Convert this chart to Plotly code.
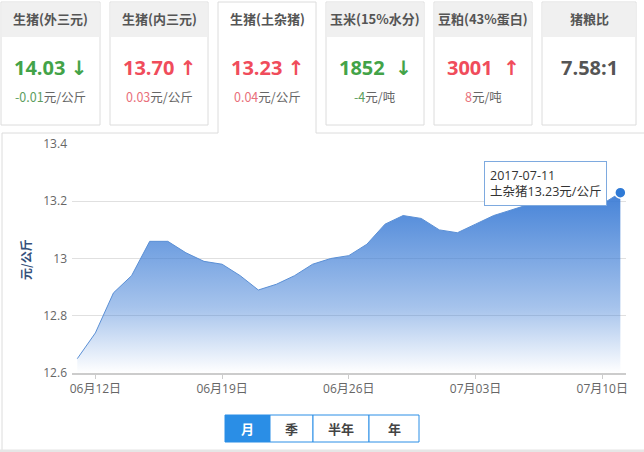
import plotly.graph_objects as go

# ---------------- data ----------------
dates = [
    "2017-06-11", "2017-06-12", "2017-06-13", "2017-06-14", "2017-06-15", "2017-06-16",
    "2017-06-17", "2017-06-18", "2017-06-19", "2017-06-20", "2017-06-21", "2017-06-22",
    "2017-06-23", "2017-06-24", "2017-06-25", "2017-06-26", "2017-06-27", "2017-06-28",
    "2017-06-29", "2017-06-30", "2017-07-01", "2017-07-02", "2017-07-03", "2017-07-04",
    "2017-07-05", "2017-07-06", "2017-07-07", "2017-07-08", "2017-07-09", "2017-07-10",
    "2017-07-11",
]
prices = [
    12.65, 12.74, 12.88, 12.94, 13.06, 13.06,
    13.02, 12.99, 12.98, 12.94, 12.89, 12.91,
    12.94, 12.98, 13.00, 13.01, 13.05, 13.12,
    13.15, 13.14, 13.10, 13.09, 13.12, 13.15,
    13.17, 13.19, 13.19, 13.20, 13.20, 13.19,
    13.23,
]
tick_dates = ["2017-06-12", "2017-06-19", "2017-06-26", "2017-07-03", "2017-07-10"]
tick_labels = ["06月12日", "06月19日", "06月26日", "07月03日", "07月10日"]
y_ticks = [12.6, 12.8, 13.0, 13.2, 13.4]
y_title = "元/公斤"
series_name = "土杂猪"
tooltip_date = "2017-07-11"

card_names = ["生猪(外三元)", "生猪(内三元)", "生猪(土杂猪)", "玉米(15%水分)", "豆粕(43%蛋白)", "猪粮比"]
card_values = ["14.03", "13.70", "13.23", "1852", "3001", "7.58:1"]
card_changes = ["-0.01", "0.03", "0.04", "-4", "8", ""]
card_units = ["元/公斤", "元/公斤", "元/公斤", "元/吨", "元/吨", ""]
card_dirs = ["down", "up", "up", "down", "up", ""]
active_card = 2

range_buttons = ["月", "季", "半年", "年"]
active_button = 0

# ---------------- layout helpers ----------------
W, H = 644, 452
L, R, T, B = 72, 18, 144, 79
PW, PH = W - L - R, H - T - B


def px(x):
    return (x - L) / PW


def py(y):
    return (H - B - y) / PH


CJK = "Noto Sans CJK SC"
NUM = "Open Sans, Noto Sans CJK SC"
GREEN, GREEN_L = "#43a348", "#5c9e5e"
RED, RED_L = "#f04c5b", "#e9707b"
BLUE = "#2a8ee6"

fig = go.Figure()

fig.add_trace(go.Scatter(
    x=dates, y=prices, mode="lines",
    line=dict(color="#5a8fd5", width=1),
    fill="tozeroy",
    fillgradient=dict(
        type="vertical", start=12.6, stop=13.25,
        colorscale=[[0, "rgba(58,123,213,0.0)"], [0.35, "rgba(58,123,213,0.45)"],
                    [1, "rgba(58,123,213,0.97)"]],
    ),
    hoverinfo="skip", showlegend=False,
))
fig.add_trace(go.Scatter(
    x=[dates[-1]], y=[prices[-1]], mode="markers",
    marker=dict(size=11, color="#2f7ad6", line=dict(color="white", width=1.5)),
    hoverinfo="skip", showlegend=False, cliponaxis=False,
))

shapes = []
annotations = []


def note(x, y, text, font, **kw):
    d = dict(xref="paper", yref="paper", x=px(x), y=py(y), text=text,
             showarrow=False, xanchor="center", yanchor="middle", font=font)
    d.update(kw)
    annotations.append(d)


# ---------------- top cards ----------------
card_x = [(1, 100), (110, 208), (218, 316), (326, 424), (434, 532), (542, 636)]
line_c = "#dcdcdc"
for i, (x0, x1) in enumerate(card_x):
    if i == active_card:
        for (a, b, c, d) in [(x0, 2, x0, 133), (x1, 2, x1, 133), (x0, 2, x1, 2)]:
            shapes.append(dict(type="line", xref="paper", yref="paper",
                               x0=px(a), y0=py(b), x1=px(c), y1=py(d),
                               line=dict(color=line_c, width=1)))
    else:
        shapes.append(dict(type="rect", xref="paper", yref="paper",
                           x0=px(x0), y0=py(2), x1=px(x1), y1=py(125),
                           fillcolor="white", line=dict(color=line_c, width=1)))
        shapes.append(dict(type="rect", xref="paper", yref="paper",
                           x0=px(x0 + 0.5), y0=py(2.5), x1=px(x1 - 0.5), y1=py(37),
                           fillcolor="#f0f0f0", line=dict(width=0)))
    cx = (x0 + x1) / 2
    note(cx, 19, f"<b>{card_names[i]}</b>", dict(family=CJK, size=13, color="#555"))
    d = card_dirs[i]
    if d:
        col = GREEN if d == "down" else RED
        lcol = GREEN_L if d == "down" else RED_L
        arrow = "↓" if d == "down" else "↑"
        gap = " " if "." in card_values[i] else "  "
        note(cx, 68,
             f"<b>{card_values[i]}</b>{gap}<span style='font-family:DejaVu Sans'><b>{arrow}</b></span>",
             dict(family=NUM, size=20, color=col))
        note(cx, 96,
             f"<span style='color:{lcol}'>{card_changes[i]}</span>{card_units[i]}",
             dict(family=CJK, size=12.5, color="#666"))
    else:
        note(cx, 68, f"<b>{card_values[i]}</b>", dict(family=NUM, size=20, color="#555"))

# ---------------- panel borders ----------------
ax0, ax1 = card_x[active_card]
for (a, b, c, d) in [(2, 133, ax0, 133), (ax1, 133, 644, 133), (2, 133, 2, 450)]:
    shapes.append(dict(type="line", xref="paper", yref="paper",
                       x0=px(a), y0=py(b), x1=px(c), y1=py(d),
                       line=dict(color=line_c, width=1)))
shapes.append(dict(type="rect", xref="paper", yref="paper",
                   x0=px(0), y0=py(449.5), x1=px(644), y1=py(452),
                   fillcolor="#e6e6e6", line=dict(width=0)))

# ---------------- range buttons ----------------
btn_x = [(225, 270), (270, 313), (313, 369), (369, 419)]
for i, (x0, x1) in enumerate(btn_x):
    act = i == active_button
    shapes.append(dict(type="rect", xref="paper", yref="paper",
                       x0=px(x0), y0=py(415), x1=px(x1), y1=py(442),
                       fillcolor=BLUE if act else "white",
                       line=dict(color=BLUE, width=1)))
    note((x0 + x1) / 2, 428.5, f"<b>{range_buttons[i]}</b>",
         dict(family=CJK, size=13, color="white" if act else "#444"))

# ---------------- y title ----------------
note(25, 260, f"<b>{y_title}</b>", dict(family=CJK, size=12, color="#34507a"), textangle=-90)

# ---------------- tooltip ----------------
note(545.5, 183, f"{tooltip_date}<br>{series_name}{prices[-1]:.2f}{y_title}",
     dict(family=NUM, size=12.5, color="#333"),
     align="left", bgcolor="white", bordercolor="#7eaadf", borderwidth=1, borderpad=5)

fig.update_layout(
    width=W, height=H,
    margin=dict(l=L, r=R, t=T, b=B),
    paper_bgcolor="white", plot_bgcolor="white",
    shapes=shapes, annotations=annotations,
    showlegend=False, hovermode=False,
    xaxis=dict(
        type="date", range=["2017-06-10 17:00", "2017-07-11 07:30"],
        showgrid=False, zeroline=False,
        showline=True, linecolor="#cccccc", linewidth=2,
        ticks="outside", ticklen=4, tickcolor="#cccccc",
        tickvals=tick_dates, ticktext=tick_labels,
        tickfont=dict(family=NUM, size=12, color="#666"),
        fixedrange=True,
    ),
    yaxis=dict(
        range=[12.6, 13.4], tickvals=y_ticks,
        showgrid=True, gridcolor="#e0e0e0", zeroline=False, showline=False,
        ticks="", ticklabelstandoff=4,
        tickfont=dict(family=NUM, size=12, color="#666"),
        fixedrange=True,
    ),
)

fig.write_html("out.html", config={"displayModeBar": False},
               post_script="document.body.style.margin='0px';")
